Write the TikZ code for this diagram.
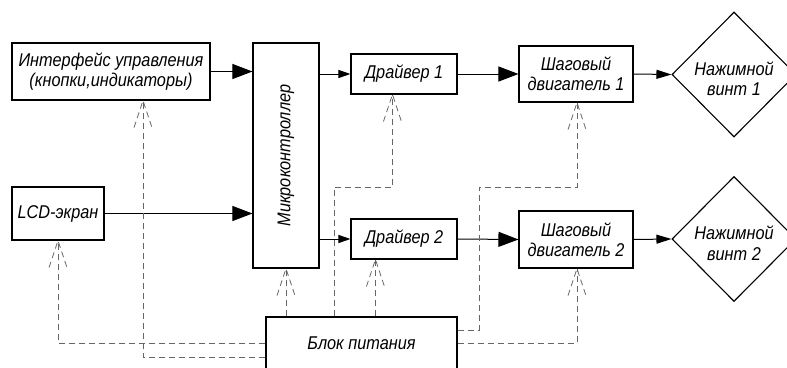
\documentclass[tikz,border=0pt]{standalone}
\usepackage{fontspec}
\setmainfont{Liberation Sans}[FakeStretch=0.88]
\usetikzlibrary{shapes.geometric,arrows.meta,calc}
\begin{document}
\begin{tikzpicture}[x=1pt,y=-1pt,
  every node/.style={font=\fontsize{18.5}{20.5}\selectfont\itshape},
  block/.style={draw,line width=1.1pt,inner sep=0pt,align=center,fill=white},
  rhomb/.style={draw,line width=1.1pt,diamond,inner sep=0pt,minimum width=124pt,minimum height=125pt},
  conn/.style={line width=1pt},
  bigarr/.style={conn,-{Triangle[length=20pt,width=15pt]}},
  midarr/.style={conn,-{Triangle[length=15pt,width=9pt]}},
  smallarr/.style={conn,-{Triangle[length=12pt,width=8pt]}},
  pline/.style={draw=black!60,line width=0.8pt,dash pattern=on 6pt off 4pt},
  vtip/.pic={\draw[pline] (-9,27) -- (0,0) -- (9,27);}
]
\useasboundingbox (0,0) rectangle (787,367);

\node[block,minimum width=191pt,minimum height=52pt] (power) at (361.5,343) {Блок питания};

\node[block,minimum width=198pt,minimum height=57pt] (iface) at (111,71.5) {Интерфейс управления\\(кнопки,индикаторы)};
\node[block,minimum width=92pt,minimum height=53pt] (lcd) at (58,213.5) {LCD-экран};
\node[block,minimum width=66pt,minimum height=225pt] (micro) at (286,155.5) {};
\node[rotate=90] (microtext) at (micro.center) {Микроконтроллер};
\node[block,minimum width=106pt,minimum height=40pt] (drv1) at (404,74) {Драйвер 1};
\node[block,minimum width=106pt,minimum height=40pt] (drv2) at (404,239) {Драйвер 2};
\node[block,minimum width=114pt,minimum height=56pt] (mot1) at (576,74) {Шаговый\\двигатель 1};
\node[block,minimum width=114pt,minimum height=57pt] (mot2) at (576,239.5) {Шаговый\\двигатель 2};
\node[rhomb] (scr1) at (734,74.5) {};
\node[align=center] (scr1t) at ($(scr1.center)+(0,4)$) {Нажимной\\винт 1};
\node[rhomb] (scr2) at (734,239) {};
\node[align=center] (scr2t) at ($(scr2.center)+(0,4)$) {Нажимной\\винт 2};

% solid connectors
\draw[bigarr] (iface.east) -- (iface.east -| micro.west);
\draw[bigarr] (lcd.east) -- (lcd.east -| micro.west);
\draw[smallarr] (micro.east |- drv1.west) -- (drv1.west);
\draw[smallarr] (micro.east |- drv2.west) -- (drv2.west);
\draw[bigarr] (drv1.east) -- (mot1.west);
\draw[bigarr] (drv2.east) -- (mot2.west);
\draw[midarr] (mot1.east) -- (scr1.west);
\draw[midarr] (mot2.east) -- (scr2.west);

% power (dashed) connectors
\coordinate (pm) at (power.north -| micro.south);
\draw[pline] (pm) -- (micro.south);
\pic at (micro.south) {vtip};

\coordinate (d2b) at ($(drv2.south west)+(25,0)$);
\draw[pline] (power.north -| d2b) -- (d2b);
\pic at (d2b) {vtip};

\coordinate (d1b) at ($(drv1.south west)+(42,0)$);
\coordinate (d1k) at (334,187);
\draw[pline] (power.north -| d1k) -- (d1k) -- (d1k -| d1b) -- (d1b);
\pic at (d1b) {vtip};

\coordinate (m1b) at ($(mot1.south)+(1,0)$);
\coordinate (m1k) at (479,330);
\draw[pline] (m1k -| power.east) -- (m1k) -- (479,187) -- (m1b |- 0,187) -- (m1b);
\pic at (m1b) {vtip};

\coordinate (m2b) at ($(mot2.south)+(1,0)$);
\draw[pline] (power.east) -- (power.east -| m2b) -- (m2b);
\pic at (m2b) {vtip};

\draw[pline] (power.west) -- (power.west -| lcd.south) -- (lcd.south);
\pic at (lcd.south) {vtip};

\coordinate (ib) at (iface.south -| 143,0);
\coordinate (ik) at (143,357);
\draw[pline] (ik -| power.west) -- (ik) -- (ib);
\pic at (ib) {vtip};
\end{tikzpicture}
\end{document}
